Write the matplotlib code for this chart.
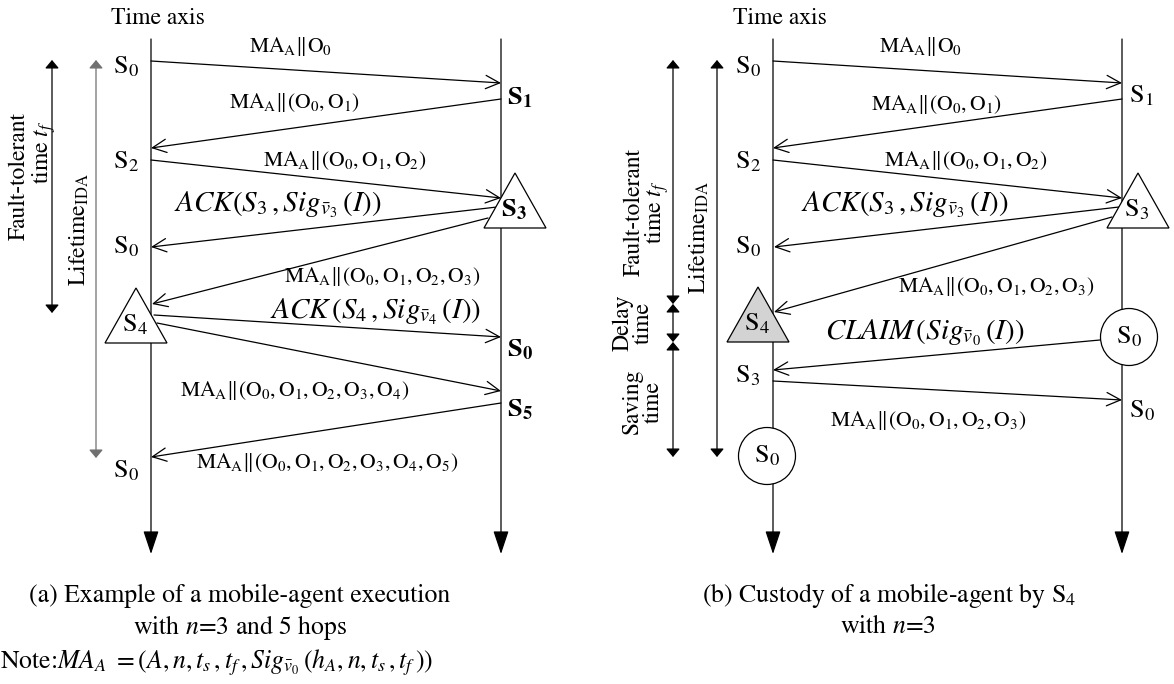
import matplotlib
matplotlib.use('Agg')
import matplotlib.pyplot as plt
from matplotlib.patches import Polygon, Circle

plt.rcParams['font.family'] = ['STIXGeneral', 'DejaVu Serif']
plt.rcParams['mathtext.fontset'] = 'stix'

# ---------------- data ----------------
# panel (a): messages exchanged between the left host time axis and the right one
a_msg_from = ['L', 'R', 'L', 'R', 'R', 'L', 'L', 'R']
a_msg_t_send = [61, 99, 160, 207, 218, 315, 323, 403]
a_msg_t_recv = [83, 148, 198, 247, 304, 337, 391, 457]
a_msg_text = [
    r'$\mathrm{MA}_\mathrm{A}\Vert\mathrm{O}_0$',
    r'$\mathrm{MA}_\mathrm{A}\Vert(\mathrm{O}_0,\mathrm{O}_1)$',
    r'$\mathrm{MA}_\mathrm{A}\Vert(\mathrm{O}_0,\mathrm{O}_1,\mathrm{O}_2)$',
    r'$ACK(S_3\,,Sig_{\bar{v}_3}\,(I))$',
    r'$\mathrm{MA}_\mathrm{A}\Vert(\mathrm{O}_0,\mathrm{O}_1,\mathrm{O}_2,\mathrm{O}_3)$',
    r'$ACK\,(S_4\,,Sig_{\bar{v}_4}\,(I))$',
    r'$\mathrm{MA}_\mathrm{A}\Vert(\mathrm{O}_0,\mathrm{O}_1,\mathrm{O}_2,\mathrm{O}_3,\mathrm{O}_4)$',
    r'$\mathrm{MA}_\mathrm{A}\Vert(\mathrm{O}_0,\mathrm{O}_1,\mathrm{O}_2,\mathrm{O}_3,\mathrm{O}_4,\mathrm{O}_5)$',
]
a_left_nodes = [r'S$_0$', r'S$_2$', r'S$_0$', r'S$_0$']
a_left_t = [67, 162, 247, 471]
a_right_nodes = [r'$\mathbf{S}_\mathbf{1}$', r'$\mathbf{S}_\mathbf{0}$', r'$\mathbf{S}_\mathbf{5}$']
a_right_t = [98, 350, 410]
a_tri_nodes = [r'$\mathbf{S}_\mathbf{3}$', r'S$_4$']
a_tri_side = ['R', 'L']
a_tri_t = [173, 288]

# panel (b)
b_msg_from = ['L', 'R', 'L', 'R', 'R', 'R', 'L']
b_msg_t_send = [61, 99, 160, 207, 217, 340, 381]
b_msg_t_recv = [83, 148, 198, 247, 312, 370, 400]
b_msg_text = [
    r'$\mathrm{MA}_\mathrm{A}\Vert\mathrm{O}_0$',
    r'$\mathrm{MA}_\mathrm{A}\Vert(\mathrm{O}_0,\mathrm{O}_1)$',
    r'$\mathrm{MA}_\mathrm{A}\Vert(\mathrm{O}_0,\mathrm{O}_1,\mathrm{O}_2)$',
    r'$ACK(S_3\,,Sig_{\bar{v}_3}\,(I))$',
    r'$\mathrm{MA}_\mathrm{A}\Vert(\mathrm{O}_0,\mathrm{O}_1,\mathrm{O}_2,\mathrm{O}_3)$',
    r'$CLAIM\,(Sig_{\bar{v}_0}\,(I))$',
    r'$\mathrm{MA}_\mathrm{A}\Vert(\mathrm{O}_0,\mathrm{O}_1,\mathrm{O}_2,\mathrm{O}_3)$',
]
b_left_nodes = [r'S$_0$', r'S$_2$', r'S$_0$', r'S$_3$']
b_left_t = [67, 162, 247, 376]
b_right_nodes = [r'S$_1$', r'S$_0$']
b_right_t = [96, 411]
b_tri_nodes = [r'S$_3$', r'S$_4$']
b_tri_side = ['R', 'L']
b_tri_t = [173, 287]
b_circ_nodes = [r'S$_0$', r'S$_0$']
b_circ_side = ['R', 'L']
b_circ_t = [337, 456]

# time spans (start, end) for the brackets on the left
a_spans = [(60, 313), (60, 458)]
b_spans = [(60, 304), (304, 342), (342, 457), (60, 457)]

# ---------------- layout ----------------
W, H = 1174, 684
fig = plt.figure(figsize=(W / 100, H / 100), dpi=100)
ax = fig.add_axes([0, 0, 1, 1])
ax.set_xlim(0, W)
ax.set_ylim(H, 0)
ax.axis('off')

LW = 0.9
MSG_FS = 15.5
ACK_FS = 21
NODE_FS = 19
SIDE_FS = 17
CAP_FS = 18.5


def axis_line(x, top=39, bottom=554):
    ax.annotate('', xy=(x, bottom), xytext=(x, top),
                arrowprops=dict(arrowstyle='-|>,head_length=0.72,head_width=0.24',
                                lw=LW, color='black', shrinkA=0, shrinkB=0,
                                mutation_scale=20), zorder=1)


def message(x0, y0, x1, y1):
    ax.annotate('', xy=(x1, y1), xytext=(x0, y0),
                arrowprops=dict(arrowstyle='->,head_length=0.5,head_width=0.24',
                                lw=LW, color='black', shrinkA=0, shrinkB=0,
                                mutation_scale=20), zorder=2)


def span(x, y0, y1, color='black'):
    ax.annotate('', xy=(x, y1), xytext=(x, y0),
                arrowprops=dict(arrowstyle='<|-|>,head_length=0.25,head_width=0.21',
                                lw=LW, color=color, shrinkA=0, shrinkB=0,
                                mutation_scale=20), zorder=2)


def triangle(cx, apex_y, fc, label):
    hw, h = 31, 55
    ax.add_patch(Polygon([(cx, apex_y), (cx - hw, apex_y + h), (cx + hw, apex_y + h)],
                         closed=True, fc=fc, ec='black', lw=LW, zorder=3))
    ax.text(cx - 1, apex_y + 37, label, fontsize=NODE_FS, ha='center', va='center', zorder=4)


def circle(cx, cy, label):
    ax.add_patch(Circle((cx, cy), 28.5, fc='white', ec='black', lw=LW, zorder=3))
    ax.text(cx, cy, label, fontsize=NODE_FS, ha='center', va='center', zorder=4)


def panel(xl, xr, msg_from, t_send, t_recv, texts, lbl_xy, send_dx, recv_dx):
    axis_line(xl)
    axis_line(xr)
    for k, (f, ts, tr, tx) in enumerate(zip(msg_from, t_send, t_recv, texts)):
        if f == 'L':
            x0, x1 = xl, xr
        else:
            x0, x1 = xr, xl
        message(x0 + send_dx[k], ts, x1 + recv_dx[k], tr)
        fs = ACK_FS if ('ACK' in tx or 'CLAIM' in tx) else MSG_FS
        ax.text(lbl_xy[k][0], lbl_xy[k][1], tx, fontsize=fs, ha='center', va='center', zorder=5)


# ---------------- panel (a) ----------------
XL_A, XR_A = 151, 501
ax.text(158, 18, 'Time axis', fontsize=SIDE_FS, ha='center', va='center')
a_lbl_xy = [(291, 47), (294, 103), (345, 160), (278, 205), (382, 276), (376, 312), (295, 390), (327, 462)]
a_send_dx = [0, 0, 0, -4, -13, 3, 6, 0]
a_recv_dx = [0, 0, 0, 0, 1, 0, 0, 0]
panel(XL_A, XR_A, a_msg_from, a_msg_t_send, a_msg_t_recv, a_msg_text, a_lbl_xy, a_send_dx, a_recv_dx)
for lab, t in zip(a_left_nodes, a_left_t):
    ax.text(126, t, lab, fontsize=NODE_FS, ha='center', va='center')
for lab, t in zip(a_right_nodes, a_right_t):
    ax.text(507, t, lab, fontsize=NODE_FS, ha='left', va='center')
for lab, side, t in zip(a_tri_nodes, a_tri_side, a_tri_t):
    cx = XR_A + 14 if side == 'R' else XL_A - 15
    triangle(cx, t, 'white', lab)

span(52, *a_spans[0])
span(96, *a_spans[1], color='#707070')
ax.text(19, 176, 'Fault-tolerant', fontsize=SIDE_FS, rotation=90, ha='center', va='center')
ax.text(44, 152, r'time $t_f$', fontsize=SIDE_FS, rotation=90, ha='center', va='center')
ax.text(79, 230, r'Lifetime$_\mathrm{IDA}$', fontsize=SIDE_FS, rotation=90, ha='center', va='center')

ax.text(240, 596, '(a) Example of a mobile-agent execution', fontsize=CAP_FS, ha='center', va='center')
ax.text(240, 627, r'with $n$=3 and 5 hops', fontsize=CAP_FS, ha='center', va='center')
ax.text(0, 663, r'Note:$MA_A\ =(A,n,t_s\,,t_f\,,Sig_{\bar{v}_0}\,(h_A,n,t_s\,,t_f\,))$',
        fontsize=CAP_FS, ha='left', va='center')

# ---------------- panel (b) ----------------
XL_B, XR_B = 773, 1122
ax.text(780, 18, 'Time axis', fontsize=SIDE_FS, ha='center', va='center')
b_lbl_xy = [(921, 47), (936, 104), (966, 160), (905, 205), (996, 287), (925, 333), (928, 420)]
b_send_dx = [0, 0, 0, -3, -10, -22, 0]
b_recv_dx = [0, 0, 0, 1, 1, 0, 0]
panel(XL_B, XR_B, b_msg_from, b_msg_t_send, b_msg_t_recv, b_msg_text, b_lbl_xy, b_send_dx, b_recv_dx)
for lab, t in zip(b_left_nodes, b_left_t):
    ax.text(748, t, lab, fontsize=NODE_FS, ha='center', va='center')
for lab, t in zip(b_right_nodes, b_right_t):
    ax.text(1129, t, lab, fontsize=NODE_FS, ha='left', va='center')
for lab, side, t in zip(b_tri_nodes, b_tri_side, b_tri_t):
    if side == 'R':
        triangle(XR_B + 16, t, 'white', lab)
    else:
        triangle(XL_B - 15, t, '#d3d3d3', lab)
for lab, side, t in zip(b_circ_nodes, b_circ_side, b_circ_t):
    cx = XR_B + 7 if side == 'R' else XL_B - 6
    circle(cx, t, lab)

for s in b_spans[:3]:
    span(673, *s)
span(717, *b_spans[3])
ax.text(647, 212, 'Fault-tolerant\n' + r'time $t_f$', fontsize=SIDE_FS, rotation=90,
        ha='center', va='center', multialignment='center', linespacing=0.95)
ax.text(699, 238, r'Lifetime$_\mathrm{IDA}$', fontsize=SIDE_FS, rotation=90, ha='center', va='center')
ax.text(633, 323, 'Delay\ntime', fontsize=SIDE_FS, rotation=90, ha='center', va='center',
        multialignment='center', linespacing=0.95)
ax.text(643, 402, 'Saving\ntime', fontsize=SIDE_FS, rotation=90, ha='center', va='center',
        multialignment='center', linespacing=0.95)

ax.text(889, 596, r'(b) Custody of a mobile-agent by S$_4$', fontsize=CAP_FS, ha='center', va='center')
ax.text(888, 627, r'with $n$=3', fontsize=CAP_FS, ha='center', va='center')

fig.savefig('out.png', dpi=100)
